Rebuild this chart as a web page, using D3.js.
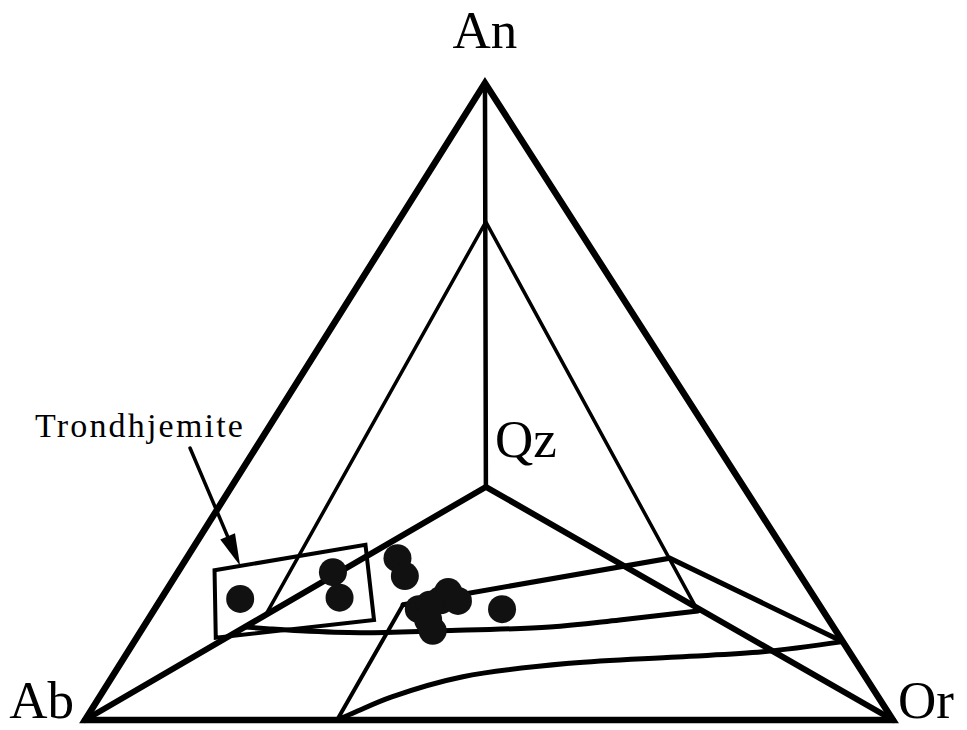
<!DOCTYPE html>
<html>
<head>
<meta charset="utf-8">
<script src="https://cdn.jsdelivr.net/npm/d3@7"></script>
<style>
  body { margin: 0; background: #fff; }
  text { font-family: "Liberation Serif", "DejaVu Serif", serif; fill: #000; }
</style>
</head>
<body>
<svg id="chart" width="967" height="730"></svg>
<script>
// Compositions are given as [Ab, An, Or] in percent.
const vertexNames = ["Ab", "An", "Or"];
const vertexComps = [[100, 0, 0], [0, 100, 0], [0, 0, 100]];

// Projected quartz apex of the Qz-Ab-An-Or tetrahedron
const qzPoint = [31.9, 36.6, 31.5];

// Inner triangle: apex on the An-Qz edge, feet on the Qz-Ab and Qz-Or edges
const innerApex = [10.9, 78.2, 10.9];
const innerLeftFoot = [69.3, 16.5, 14.2];
const innerRightFoot = [15.5, 17.1, 67.4];

// Granite-field boundaries
const fieldUpper = [[51.5, 18.1, 30.4], [14.8, 25.4, 59.8], [0, 12.3, 87.7]];
const fieldSide = [[68.8, 0, 31.2], [51.5, 18.1, 30.4]];
const fieldLower = [
  [72.7, 14.6, 12.7], [69.9, 14.3, 15.8], [66.3, 14.0, 19.7], [59.1, 13.7, 27.3],
  [49.0, 14.0, 37.0], [35.1, 14.6, 50.3], [25.9, 15.7, 58.4], [15.5, 17.1, 67.4]
];
const fieldBase = [
  [68.8, 0, 31.2], [65.8, 1.3, 32.9], [60.3, 3.6, 36.1], [49.8, 6.8, 43.4],
  [35.5, 8.9, 55.6], [21.7, 9.9, 68.4], [10.7, 10.7, 78.6], [0, 12.3, 87.7]
];

// Trondhjemite field outline
const trondhjemiteBox = [[72.0, 23.5, 4.4], [51.4, 27.5, 21.1], [56.3, 15.7, 28.0], [77.3, 12.9, 9.8]];

// Sample analyses
const samples = [
  [71.2, 19.0, 9.8], [57.6, 23.2, 19.2], [58.8, 19.2, 22.0], [48.5, 25.4, 26.1],
  [49.0, 22.6, 28.4], [49.9, 17.4, 32.7], [48.2, 18.1, 33.7], [46.5, 18.8, 34.7],
  [44.9, 20.1, 35.0], [44.4, 18.7, 36.9], [49.6, 15.7, 34.7], [49.9, 14.0, 36.1],
  [39.6, 17.4, 43.0]
];

// Annotation (plane coordinates: [horizontal %, An %])
const labelText = "Trondhjemite";
const labelAnchor = [-6.2, 44.4];
const arrowTail = [13.0, 42.7];
const arrowTip = [19.2, 24.2];

const svg = d3.select("#chart");
const x = d3.scaleLinear().domain([0, 100]).range([85, 893]);
const y = d3.scaleLinear().domain([0, 100]).range([720, 83]);
const apexShift = 0.495; // horizontal position of the An apex along the base

function project(c) {
  const an = c[1], or = c[2];
  return [x(or + apexShift * an), y(an)];
}
const line = d3.line();
const curve = d3.line().curve(d3.curveCatmullRom.alpha(0.5));

const g = svg.append("g").attr("fill", "none").attr("stroke", "#000")
  .attr("stroke-linecap", "round");

// outer triangle
g.append("path")
  .attr("d", line(vertexComps.map(project)) + "Z")
  .attr("stroke-width", 6.5).attr("stroke-linejoin", "miter").attr("stroke-miterlimit", 20);

// tetrahedron edges to Qz
g.append("path").attr("d", line([vertexComps[1], qzPoint].map(project))).attr("stroke-width", 4.5);
g.append("path").attr("d", line([vertexComps[0], qzPoint, vertexComps[2]].map(project)))
  .attr("stroke-width", 6).attr("stroke-linejoin", "miter");

// inner triangle
g.append("path").attr("d", line([innerLeftFoot, innerApex, innerRightFoot].map(project)))
  .attr("stroke-width", 3.5).attr("stroke-linejoin", "miter").attr("stroke-miterlimit", 20);

// field boundaries
g.append("path").attr("d", line(fieldUpper.map(project))).attr("stroke-width", 5);
g.append("path").attr("d", line(fieldSide.map(project))).attr("stroke-width", 4);
g.append("path").attr("d", curve(fieldLower.map(project))).attr("stroke-width", 5);
g.append("path").attr("d", curve(fieldBase.map(project))).attr("stroke-width", 5);

// trondhjemite box
g.append("path").attr("d", line(trondhjemiteBox.map(project)) + "Z")
  .attr("stroke-width", 4).attr("stroke-linejoin", "miter");

// samples
svg.append("g").selectAll("circle").data(samples).join("circle")
  .attr("cx", d => project(d)[0]).attr("cy", d => project(d)[1])
  .attr("r", 14).attr("fill", "#111");

// annotation arrow
const t0 = [x(arrowTail[0]), y(arrowTail[1])];
const t1 = [x(arrowTip[0]), y(arrowTip[1])];
const dx = t1[0] - t0[0], dy = t1[1] - t0[1], len = Math.hypot(dx, dy);
const ux = dx / len, uy = dy / len, headLen = 32, headHalf = 8;
const base = [t1[0] - ux * headLen, t1[1] - uy * headLen];
g.append("path").attr("d", line([t0, [base[0] + ux * 4, base[1] + uy * 4]])).attr("stroke-width", 3.5);
svg.append("path")
  .attr("d", line([t1, [base[0] - uy * headHalf, base[1] + ux * headHalf],
                       [base[0] + uy * headHalf, base[1] - ux * headHalf]]) + "Z")
  .attr("fill", "#000");

svg.append("text")
  .attr("x", x(labelAnchor[0])).attr("y", y(labelAnchor[1]))
  .attr("font-size", 34).attr("textLength", 208).attr("lengthAdjust", "spacing")
  .text(labelText);

// vertex labels
const labelOffsets = { Ab: [-11, -2, "end"], An: [0, -35, "middle"], Or: [5, -2, "start"] };
vertexNames.forEach((n, i) => {
  const p = project(vertexComps[i]);
  const o = labelOffsets[n];
  svg.append("text").attr("x", p[0] + o[0]).attr("y", p[1] + o[1])
    .attr("text-anchor", o[2]).attr("font-size", 53).text(n);
});
const qp = project(qzPoint);
svg.append("text").attr("x", qp[0] + 9).attr("y", qp[1] - 30)
  .attr("font-size", 53).text("Qz");
</script>
</body>
</html>
